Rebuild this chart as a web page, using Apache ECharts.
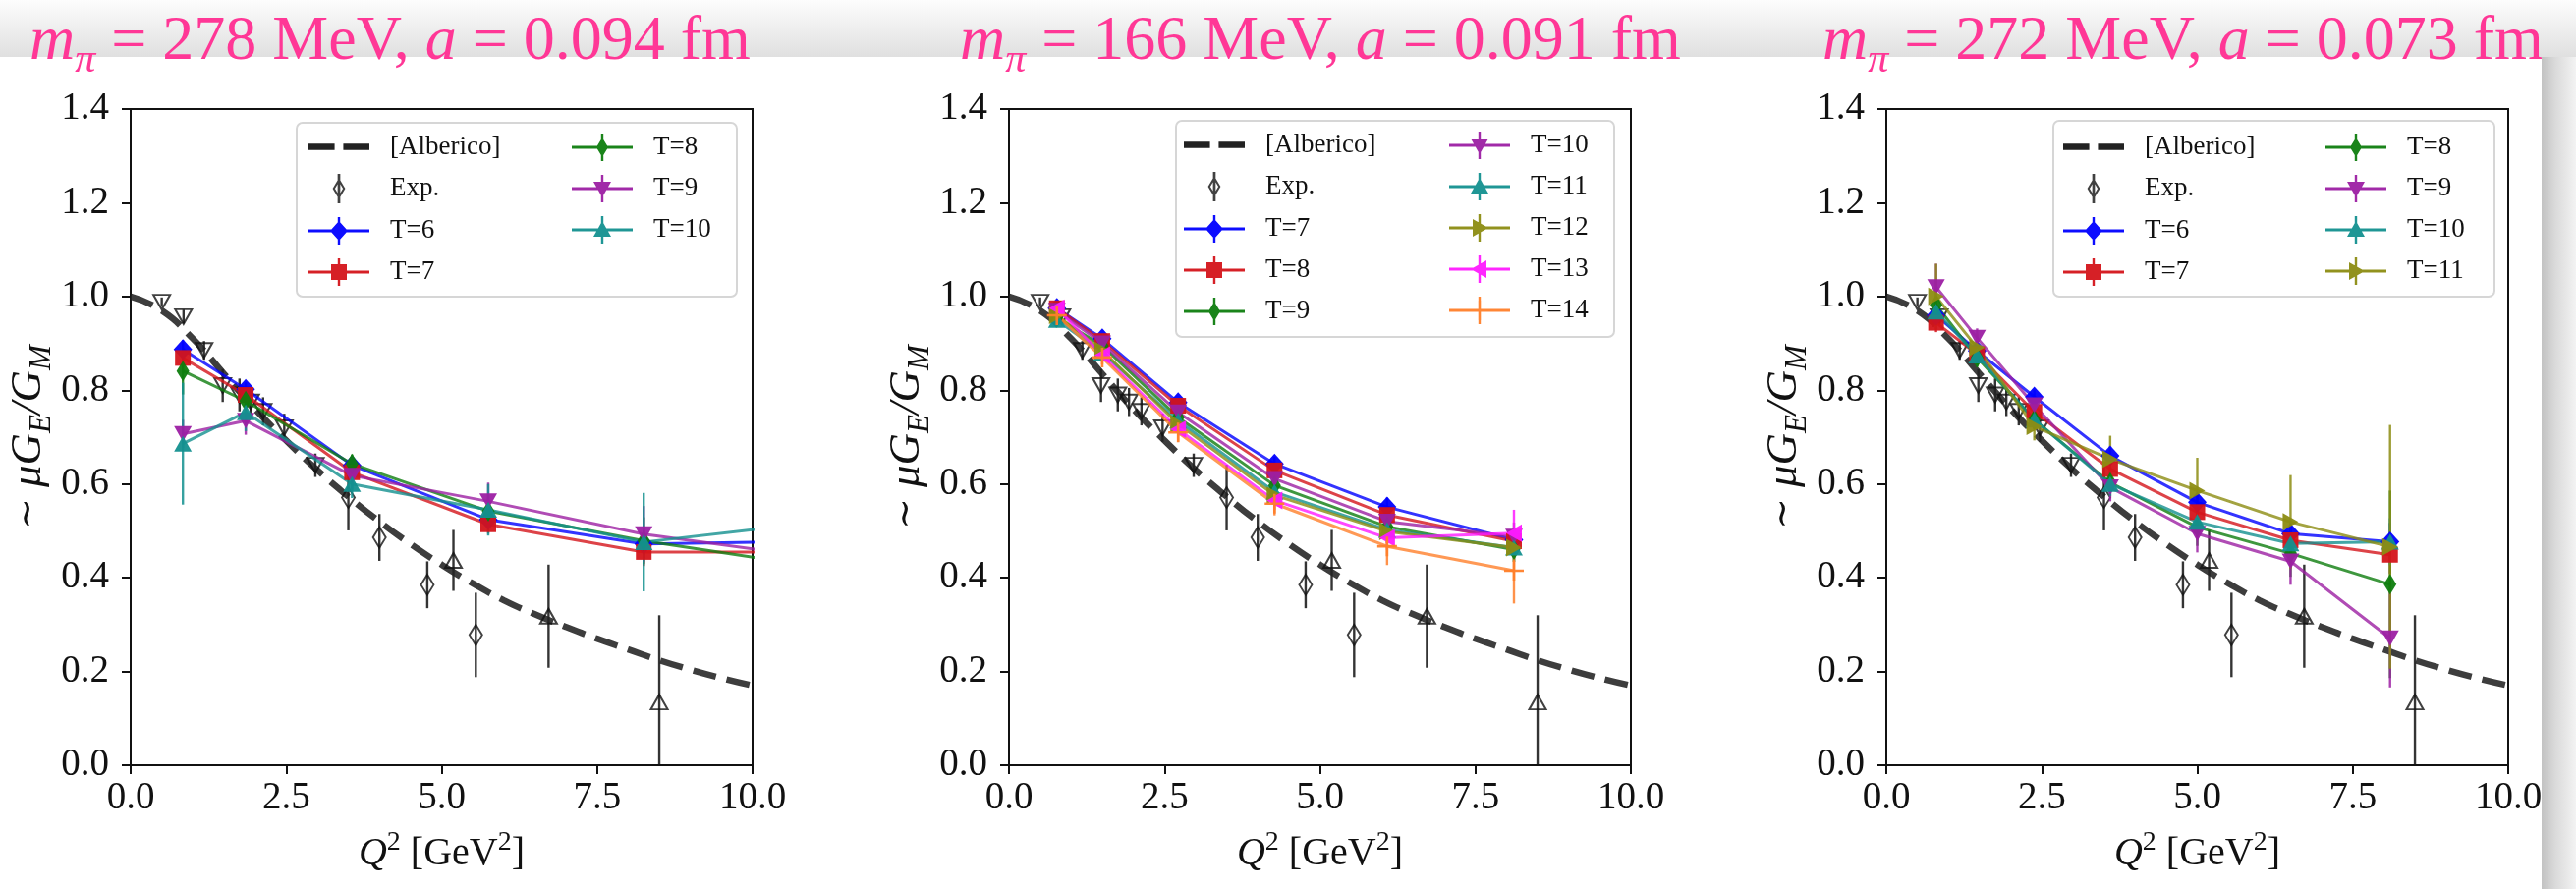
<!DOCTYPE html>
<html>
<head>
<meta charset="utf-8">
<script src="https://cdn.jsdelivr.net/npm/echarts@6/dist/echarts.min.js"></script>
<style>
  html, body { margin: 0; padding: 0; background: #fff; }
  #app { width: 2622px; height: 905px; }
</style>
</head>
<body>
<div id="app"></div>
<script>
const SERIF = "'Liberation Serif', 'DejaVu Serif', serif";

// ---- Alberico parametrisation (dashed curve), same in all panels
const albQ2 = [0, 0.5, 1, 1.5, 2, 2.5, 3, 3.5, 4, 4.5, 5, 5.5, 6, 6.5, 7, 7.5, 8, 8.5, 9, 9.5, 10];
const albRatio = [1.0, 0.97, 0.91, 0.835, 0.76, 0.693, 0.63, 0.573, 0.52, 0.472, 0.428, 0.388, 0.352, 0.322, 0.295, 0.27, 0.247, 0.224, 0.204, 0.186, 0.17];

// ---- experimental points [Q2, ratio, err]
const expDown = [[0.5, 0.988, 0.01], [0.85, 0.957, 0.015], [1.18, 0.885, 0.02], [1.48, 0.81, 0.035], [1.75, 0.79, 0.035], [1.93, 0.775, 0.03], [2.13, 0.755, 0.03], [2.47, 0.72, 0.03], [2.97, 0.64, 0.025]];
const expDiamond = [[3.5, 0.571, 0.07], [4.0, 0.486, 0.05], [4.77, 0.385, 0.05], [5.55, 0.278, 0.09]];
const expUp = [[5.19, 0.437, 0.065], [6.72, 0.318, 0.11], [8.5, 0.135, 0.185]];

// ---- panel 1: m_pi = 278 MeV
const q2P1 = [0.84, 1.85, 3.56, 5.75, 8.25, 11.0];
const p1T6 = [0.887, 0.802, 0.64, 0.524, 0.472, 0.478];
const p1T6Err = [0.02, 0.015, 0.015, 0.02, 0.03, 0.05];
const p1T7 = [0.869, 0.79, 0.625, 0.514, 0.455, 0.455];
const p1T7Err = [0.02, 0.015, 0.015, 0.02, 0.03, 0.05];
const p1T8 = [0.841, 0.777, 0.643, 0.542, 0.479, 0.424];
const p1T8Err = [0.05, 0.03, 0.02, 0.03, 0.05, 0.08];
const p1T9 = [0.707, 0.735, 0.618, 0.563, 0.493, 0.444];
const p1T9Err = [0.03, 0.03, 0.03, 0.04, 0.06, 0.1];
const p1T10 = [0.686, 0.753, 0.60, 0.545, 0.476, 0.518];
const p1T10Err = [0.13, 0.04, 0.03, 0.055, 0.105, 0.15];

// ---- panel 2: m_pi = 166 MeV
const q2P2 = [0.77, 1.5, 2.72, 4.27, 6.08, 8.12];
const p2T7 = [0.975, 0.91, 0.774, 0.643, 0.551, 0.481];
const p2T7Err = [0.01, 0.01, 0.01, 0.015, 0.02, 0.025];
const p2T8 = [0.975, 0.905, 0.767, 0.629, 0.534, 0.478];
const p2T8Err = [0.01, 0.01, 0.01, 0.015, 0.02, 0.025];
const p2T9 = [0.955, 0.895, 0.742, 0.597, 0.509, 0.46];
const p2T9Err = [0.01, 0.01, 0.01, 0.015, 0.02, 0.025];
const p2T10 = [0.97, 0.9, 0.753, 0.611, 0.52, 0.488];
const p2T10Err = [0.01, 0.01, 0.015, 0.02, 0.02, 0.03];
const p2T11 = [0.95, 0.88, 0.735, 0.583, 0.502, 0.464];
const p2T11Err = [0.01, 0.015, 0.015, 0.02, 0.02, 0.03];
const p2T12 = [0.96, 0.885, 0.728, 0.576, 0.499, 0.464];
const p2T12Err = [0.01, 0.015, 0.015, 0.02, 0.025, 0.03];
const p2T13 = [0.975, 0.875, 0.717, 0.565, 0.485, 0.495];
const p2T13Err = [0.015, 0.015, 0.015, 0.02, 0.025, 0.05];
const p2T14 = [0.96, 0.87, 0.71, 0.558, 0.467, 0.415];
const p2T14Err = [0.015, 0.015, 0.02, 0.025, 0.04, 0.07];

// ---- panel 3: m_pi = 272 MeV
const q2P3 = [0.8, 1.46, 2.38, 3.6, 5.0, 6.5, 8.1];
const p3T6 = [0.96, 0.884, 0.786, 0.66, 0.561, 0.494, 0.477];
const p3T6Err = [0.02, 0.015, 0.015, 0.02, 0.02, 0.025, 0.04];
const p3T7 = [0.944, 0.877, 0.754, 0.632, 0.54, 0.48, 0.449];
const p3T7Err = [0.02, 0.015, 0.015, 0.02, 0.02, 0.025, 0.04];
const p3T8 = [0.982, 0.87, 0.737, 0.603, 0.508, 0.452, 0.386];
const p3T8Err = [0.04, 0.02, 0.02, 0.03, 0.04, 0.05, 0.2];
const p3T9 = [1.02, 0.912, 0.768, 0.593, 0.494, 0.435, 0.271];
const p3T9Err = [0.05, 0.02, 0.02, 0.03, 0.04, 0.05, 0.105];
const p3T10 = [0.968, 0.874, 0.737, 0.6, 0.519, 0.473, 0.477];
const p3T10Err = [0.03, 0.02, 0.02, 0.025, 0.03, 0.04, 0.05];
const p3T11 = [1.0, 0.891, 0.723, 0.653, 0.586, 0.519, 0.466];
const p3T11Err = [0.07, 0.03, 0.03, 0.05, 0.07, 0.1, 0.26];

const titles = [
  ['278', '0.094'],
  ['166', '0.091'],
  ['272', '0.073'],
];

// ---- styles
const C = {
  blue: '#0000ff', red: '#d4141a', green: '#0e7d0e', purple: '#9c1fa3',
  teal: '#13908f', olive: '#8c8c12', magenta: '#ff1aff', orange: '#ff7f2a',
};
const MK = {
  D: { symbol: 'diamond', size: [19, 21], rotate: 0, icon: 'M0,-10L9,0L0,10L-9,0Z' },
  s: { symbol: 'rect', size: [16, 16], rotate: 0, icon: 'M-8,-8H8V8H-8Z' },
  d: { symbol: 'diamond', size: [13, 21], rotate: 0, icon: 'M0,-10L6,0L0,10L-6,0Z' },
  v: { symbol: 'triangle', size: [18, 16], rotate: 180, icon: 'M-9,-7H9L0,9Z' },
  '^': { symbol: 'triangle', size: [18, 16], rotate: 0, icon: 'M-9,7L0,-9L9,7Z' },
  '>': { symbol: 'triangle', size: [18, 16], rotate: -90, icon: 'M-7,-9L9,0L-7,9Z' },
  '<': { symbol: 'triangle', size: [18, 16], rotate: 90, icon: 'M7,-9V9L-9,0Z' },
  '+': { symbol: 'path://M-1.3,-10H1.3V10H-1.3Z M-10,-1.3H10V1.3H-10Z', size: [20, 20], rotate: 0, icon: 'M-1.3,-10H1.3V10H-1.3Z M-10,-1.3H10V1.3H-10Z' },
};
const EXP_MK = {
  d: { symbol: 'diamond', size: [13, 21], rotate: 0 },
  v: { symbol: 'triangle', size: [17, 15], rotate: 180 },
  '^': { symbol: 'triangle', size: [17, 15], rotate: 0 },
};
// legend handle: line + error bar + marker
const HANDLE = 'M-31,-1.6H31V1.6H-31Z M-1.2,-14H1.2V14H-1.2Z ';

const panels = [
  {
    left: 133, q2: q2P1,
    lat: [
      ['T=6', p1T6, p1T6Err, C.blue, 'D'],
      ['T=7', p1T7, p1T7Err, C.red, 's'],
      ['T=8', p1T8, p1T8Err, C.green, 'd'],
      ['T=9', p1T9, p1T9Err, C.purple, 'v'],
      ['T=10', p1T10, p1T10Err, C.teal, '^'],
    ],
    legend: [302, 125, 448, 177, 314, 582, 136],
    col1: ['[Alberico]', 'Exp.', 'T=6', 'T=7'],
    col2: ['T=8', 'T=9', 'T=10'],
  },
  {
    left: 1027, q2: q2P2,
    lat: [
      ['T=7', p2T7, p2T7Err, C.blue, 'D'],
      ['T=8', p2T8, p2T8Err, C.red, 's'],
      ['T=9', p2T9, p2T9Err, C.green, 'd'],
      ['T=10', p2T10, p2T10Err, C.purple, 'v'],
      ['T=11', p2T11, p2T11Err, C.teal, '^'],
      ['T=12', p2T12, p2T12Err, C.olive, '>'],
      ['T=13', p2T13, p2T13Err, C.magenta, '<'],
      ['T=14', p2T14, p2T14Err, C.orange, '+'],
    ],
    legend: [1197, 123, 446, 220, 1205, 1475, 134],
    col1: ['[Alberico]', 'Exp.', 'T=7', 'T=8', 'T=9'],
    col2: ['T=10', 'T=11', 'T=12', 'T=13', 'T=14'],
  },
  {
    left: 1920, q2: q2P3,
    lat: [
      ['T=6', p3T6, p3T6Err, C.blue, 'D'],
      ['T=7', p3T7, p3T7Err, C.red, 's'],
      ['T=8', p3T8, p3T8Err, C.green, 'd'],
      ['T=9', p3T9, p3T9Err, C.purple, 'v'],
      ['T=10', p3T10, p3T10Err, C.teal, '^'],
      ['T=11', p3T11, p3T11Err, C.olive, '>'],
    ],
    legend: [2090, 123, 449, 179, 2100, 2367, 136],
    col1: ['[Alberico]', 'Exp.', 'T=6', 'T=7'],
    col2: ['T=8', 'T=9', 'T=10', 'T=11'],
  },
];

function errSeries(p, rows, color, z, width) {
  return {
    type: 'custom',
    xAxisIndex: p, yAxisIndex: p,
    clip: true, silent: true, z: z,
    data: rows,
    renderItem: function (params, api) {
      const x = api.value(0), y = api.value(1), e = api.value(2);
      const a = api.coord([x, y + e]);
      const b = api.coord([x, y - e]);
      return {
        type: 'line',
        shape: { x1: a[0], y1: a[1], x2: b[0], y2: b[1] },
        style: { stroke: color, lineWidth: width, opacity: 0.85 },
      };
    },
  };
}

const grids = [], xAxes = [], yAxes = [], series = [], legends = [], titleOpts = [], graphics = [];

panels.forEach((pn, p) => {
  const tag = '#' + p;
  const markerOf = {};
  pn.lat.forEach(([nm, , , , m]) => { markerOf[nm] = m; });

  grids.push({
    left: pn.left, top: 111, width: 633, height: 668,
    show: true, borderColor: '#111', borderWidth: 2, backgroundColor: 'transparent',
  });
  xAxes.push({
    gridIndex: p, type: 'value', min: 0, max: 10, interval: 2.5,
    name: '{i|Q}{p|2}{n| [GeV}{p|2}{n|]}',
    nameLocation: 'middle', nameGap: 65,
    nameTextStyle: {
      color: '#111', fontFamily: SERIF, fontSize: 40,
      rich: {
        i: { fontFamily: SERIF, fontSize: 40, fontStyle: 'italic', color: '#111' },
        n: { fontFamily: SERIF, fontSize: 40, color: '#111' },
        p: { fontFamily: SERIF, fontSize: 28, color: '#111', padding: [0, 0, 22, 0] },
      },
    },
    axisLine: { show: true, onZero: false, lineStyle: { color: '#111', width: 2 } },
    axisTick: { show: true, length: 9, lineStyle: { color: '#111', width: 2 } },
    axisLabel: { margin: 14, fontFamily: SERIF, fontSize: 39, color: '#111', formatter: (v) => v.toFixed(1) },
    splitLine: { show: false },
  });
  yAxes.push({
    gridIndex: p, type: 'value', min: 0, max: 1.4, interval: 0.2,
    name: '{t|\u223C} {b|\u03BCG}{s|E}{b|/G}{s|M}',
    nameLocation: 'middle', nameGap: 74, nameRotate: 90,
    nameTextStyle: {
      color: '#111', fontFamily: SERIF, fontSize: 44,
      rich: {
        t: { fontFamily: "'DejaVu Serif', serif", fontSize: 38, color: '#111' },
        b: { fontFamily: SERIF, fontSize: 45, fontStyle: 'italic', color: '#111' },
        s: { fontFamily: SERIF, fontSize: 31, fontStyle: 'italic', color: '#111', padding: [27, 0, 0, 0] },
      },
    },
    axisLine: { show: true, onZero: false, lineStyle: { color: '#111', width: 2 } },
    axisTick: { show: true, length: 9, lineStyle: { color: '#111', width: 2 } },
    axisLabel: { margin: 22, fontFamily: SERIF, fontSize: 39, color: '#111', formatter: (v) => v.toFixed(1) },
    splitLine: { show: false },
  });

  // Alberico dashed curve
  series.push({
    name: '[Alberico]' + tag, type: 'line', xAxisIndex: p, yAxisIndex: p,
    data: albQ2.map((q, i) => [q, albRatio[i]]),
    smooth: true, showSymbol: false, symbol: 'none', z: 2,
    lineStyle: { color: '#222', width: 6.5, type: [24, 11], opacity: 0.88 },
    itemStyle: { color: '#222' },
  });

  // experimental data
  const expAll = expDown.concat(expDiamond, expUp);
  series.push(errSeries(p, expAll, '#111', 2, 2.4));
  [[expDiamond, 'd', 'Exp.' + tag], [expDown, 'v', 'expDown' + tag], [expUp, '^', 'expUp' + tag]].forEach(([rows, m, nm]) => {
    series.push({
      name: nm, type: 'scatter', xAxisIndex: p, yAxisIndex: p, z: 2,
      data: rows.map((r) => [r[0], r[1]]),
      symbol: EXP_MK[m].symbol, symbolSize: EXP_MK[m].size, symbolRotate: EXP_MK[m].rotate,
      itemStyle: { color: 'rgba(255,255,255,0)', borderColor: '#111', borderWidth: 2 },
    });
  });

  // lattice data
  pn.lat.forEach(([nm, ys, es, col, m]) => {
    series.push(errSeries(p, pn.q2.map((q, i) => [q, ys[i], es[i]]), col, 3, 2.4));
    series.push({
      name: nm + tag, type: 'line', xAxisIndex: p, yAxisIndex: p, z: 3,
      data: pn.q2.map((q, i) => [q, ys[i]]),
      symbol: MK[m].symbol, symbolSize: MK[m].size, symbolRotate: MK[m].rotate, showSymbol: true,
      lineStyle: { color: col, width: 3, opacity: 0.8 },
      itemStyle: { color: col, opacity: 0.95 },
    });
  });

  // legend frame + two legend columns
  const [fx, fy, fw, fh, c1, c2, lt] = pn.legend;
  graphics.push({
    type: 'rect', z: 4,
    shape: { x: fx, y: fy, width: fw, height: fh, r: 6 },
    style: { fill: 'rgba(255,255,255,0.85)', stroke: '#d6d6d6', lineWidth: 2 },
  });
  [[pn.col1, c1], [pn.col2, c2]].forEach(([names, lx]) => {
    legends.push({
      orient: 'vertical', left: lx, top: lt, padding: 0, z: 5,
      itemWidth: 62, itemHeight: 28, itemGap: 14, selectedMode: false,
      data: names.map((n) => {
        if (n === 'Exp.') {
          return { name: n + tag, icon: 'path://M0,-10L6,0L0,10L-6,0Z M-0.4,-16H0.4V16H-0.4Z' };
        }
        if (n === '[Alberico]') {
          return { name: n + tag, icon: 'path://M0,0H12V3H0Z M16,0H28V3H16Z', itemStyle: { color: '#222' } };
        }
        return { name: n + tag, icon: 'path://' + HANDLE + MK[markerOf[n]].icon };
      }),
      formatter: (n) => n.split('#')[0],
      textStyle: { fontFamily: SERIF, fontSize: 27, color: '#111', lineHeight: 24, padding: [0, 0, 0, 16] },
    });
  });
});

// titles
const titleLeft = [30, 977, 1855];
const PINK = '#ff3796';
titles.forEach(([mpi, a], i) => {
  titleOpts.push({
    left: titleLeft[i], top: 8, padding: 0,
    text: '{i|m}{s|\u03C0}{n| = ' + mpi + ' MeV, }{i|a}{n| = ' + a + ' fm}',
    textStyle: {
      fontFamily: SERIF, fontSize: 64, color: PINK, fontWeight: 'normal',
      rich: {
        i: { fontFamily: SERIF, fontSize: 64, fontStyle: 'italic', color: PINK, lineHeight: 70 },
        n: { fontFamily: SERIF, fontSize: 64, color: PINK, lineHeight: 70 },
        s: { fontFamily: SERIF, fontSize: 42, fontStyle: 'italic', color: PINK, lineHeight: 40, padding: [38, 0, 0, 0] },
      },
    },
  });
});

// slide background: top band and right shadow
graphics.push({
  type: 'rect', z: -1, silent: true,
  shape: { x: 0, y: 0, width: 2622, height: 58 },
  style: { fill: new echarts.graphic.LinearGradient(0, 0, 0, 1, [
    { offset: 0, color: '#fdfdfd' }, { offset: 1, color: '#e0e0e0' },
  ]) },
});
graphics.push({
  type: 'rect', z: 100, silent: true,
  shape: { x: 2587, y: 58, width: 35, height: 847 },
  style: { fill: new echarts.graphic.LinearGradient(0, 0, 1, 0, [
    { offset: 0, color: '#c2c2c2' }, { offset: 0.4, color: '#dadada' }, { offset: 1, color: '#f3f3f3' },
  ]) },
});

const chart = echarts.init(document.getElementById('app'), null, { renderer: 'canvas' });
chart.setOption({
  animation: false,
  backgroundColor: '#ffffff',
  title: titleOpts,
  grid: grids,
  xAxis: xAxes,
  yAxis: yAxes,
  legend: legends,
  graphic: graphics,
  series: series,
});
</script>
</body>
</html>
